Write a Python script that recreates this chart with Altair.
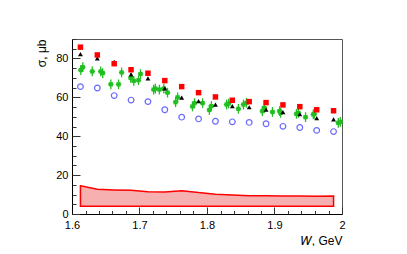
import altair as alt
import pandas as pd

# ---- data ----
W_bins = [1.6125, 1.6375, 1.6625, 1.6875, 1.7125, 1.7375, 1.7625, 1.7875,
          1.8125, 1.8375, 1.8625, 1.8875, 1.9125, 1.9375, 1.9625, 1.9875]
red_sq = [85.8, 81.8, 77.3, 74.2, 72.4, 68.6, 65.5, 62.4,
          60.2, 58.5, 57.8, 57.3, 56.1, 55.2, 53.6, 53.1]
black_tri = [82.2, 80.0, 78.3, 71.8, 69.8, 64.6, 59.8, 58.0,
             56.2, 55.5, 54.9, 53.7, 52.4, 51.3, 49.3, 48.7]
blue_circ = [65.5, 64.8, 60.9, 58.6, 57.8, 53.6, 49.8, 48.9,
             47.7, 47.4, 47.1, 46.4, 45.1, 44.5, 43.0, 42.4]
band_hi = [14.5, 12.7, 12.4, 12.2, 11.5, 11.3, 12.0, 11.0,
           10.2, 9.8, 9.4, 9.4, 9.3, 9.2, 9.1, 9.3]
band_lo = [4.0] * 16

green_W = [1.6130, 1.6160, 1.6300, 1.6425, 1.6455, 1.6575, 1.6690, 1.6735,
           1.6870, 1.6915, 1.6985, 1.7015, 1.7210, 1.7235, 1.7295, 1.7360,
           1.7415, 1.7535, 1.7565, 1.7785, 1.7815, 1.7935, 1.8035, 1.8065,
           1.8290, 1.8320, 1.8465, 1.8540, 1.8585, 1.8820, 1.8850, 1.8970,
           1.9075, 1.9090, 1.9325, 1.9355, 1.9460, 1.9575, 1.9590, 1.9945,
           1.9975]
green_val = [74.0, 75.5, 73.3, 73.3, 72.5, 66.7, 66.7, 72.8,
             70.0, 68.5, 68.8, 72.0, 64.0, 64.5, 64.0, 64.5,
             62.4, 57.5, 60.0, 55.3, 57.0, 57.0, 53.5, 55.5,
             56.3, 56.8, 54.1, 56.3, 57.2, 52.9, 54.6, 52.5,
             52.9, 52.0, 51.5, 52.0, 49.8, 51.2, 51.5, 46.9,
             47.4]
green_err = [2.5] * len(green_W)
green_werr = [0.004] * len(green_W)

x_label_values = [1.6, 1.7, 1.8, 1.9, 2.0]
x_tick_values = [1.60, 1.62, 1.64, 1.66, 1.68, 1.70, 1.72, 1.74, 1.76, 1.78,
                 1.80, 1.82, 1.84, 1.86, 1.88, 1.90, 1.92, 1.94, 1.96, 1.98, 2.00]
y_label_values = [0, 20, 40, 60, 80]
y_tick_values = [0, 5, 10, 15, 20, 25, 30, 35, 40, 45, 50, 55, 60, 65, 70,
                 75, 80, 85, 90]

PW, PH = 270, 175
FONT = "Liberation Sans"

main = pd.DataFrame({"W": W_bins, "red": red_sq, "tri": black_tri,
                     "blue": blue_circ, "hi": band_hi, "lo": band_lo})
green = pd.DataFrame({"W": green_W, "v": green_val,
                      "e": green_err, "we": green_werr})
green["vlo"] = green["v"] - green["e"]
green["vhi"] = green["v"] + green["e"]
green["wlo"] = green["W"] - green["we"]
green["whi"] = green["W"] + green["we"]

xs = alt.Scale(domain=[1.6, 2.0], nice=False, zero=False)
ys = alt.Scale(domain=[0, 90], nice=False, zero=False)

# label axes (outside, no ticks)
x_lab_axis = alt.Axis(values=x_label_values, format="~g", ticks=False,
                      labelPadding=5, labelFontSize=11, labelFont=FONT,
                      labelColor="black", domainColor="black", grid=False,
                      title="𝑊, GeV", titleFont=FONT, titleFontSize=12,
                      titleFontWeight="normal", titleX=PW, titleY=30,
                      titleAlign="right", titleBaseline="alphabetic",
                      labelFlush=False)
y_lab_axis = alt.Axis(values=y_label_values, ticks=False, labelPadding=4,
                      labelFontSize=11, labelFont=FONT, labelColor="black",
                      domainColor="black", grid=False,
                      title="σ, μb", titleFont=FONT, titleFontSize=12,
                      titleFontWeight="normal", titleAngle=270,
                      titleX=-27, titleY=0, titleAlign="right",
                      titleBaseline="alphabetic")

# tick axes placed on the opposite side, pulled onto the frame so ticks point inward
x_tick_axis = alt.Axis(orient="top", offset=-PH, values=x_tick_values,
                       labels=False, domain=False, grid=False, title=None,
                       tickColor="#333", tickWidth=1,
                       tickSize={"condition": {"test": "abs(datum.value*10 - round(datum.value*10)) < 0.001", "value": 7}, "value": 3.5})
y_tick_axis = alt.Axis(orient="right", offset=-PW, values=y_tick_values,
                       labels=False, domain=False, grid=False, title=None,
                       tickColor="#333", tickWidth=1,
                       tickSize={"condition": {"test": "datum.value % 20 === 0", "value": 8}, "value": 4})

band = alt.Chart(main).mark_area(fill="#f7b0b0", stroke="#ff0000",
                                 strokeWidth=1.5, interpolate="linear").encode(
    x=alt.X("W:Q", scale=xs, axis=x_lab_axis),
    y=alt.Y("hi:Q", scale=ys, axis=y_lab_axis),
    y2="lo:Q",
)

blue_l = alt.Chart(main).mark_point(shape="circle", filled=False,
                                    color="#2a2aff", size=32,
                                    strokeWidth=1.2).encode(
    x=alt.X("W:Q", scale=xs, axis=x_tick_axis),
    y=alt.Y("blue:Q", scale=ys, axis=y_tick_axis),
)

g_v = alt.Chart(green).mark_rule(color="#1fbf1f", strokeWidth=1.3).encode(
    x=alt.X("W:Q", scale=xs, axis=None),
    y=alt.Y("vlo:Q", scale=ys, axis=None),
    y2="vhi:Q",
)
g_h = alt.Chart(green).mark_rule(color="#1fbf1f", strokeWidth=1.3).encode(
    x=alt.X("wlo:Q", scale=xs, axis=None),
    x2="whi:Q",
    y=alt.Y("v:Q", scale=ys, axis=None),
)
g_p = alt.Chart(green).mark_point(shape="square", filled=True,
                                  color="#1fbf1f", size=18, opacity=1).encode(
    x=alt.X("W:Q", scale=xs, axis=None),
    y=alt.Y("v:Q", scale=ys, axis=None),
)

tri_l = alt.Chart(main).mark_point(shape="triangle-up", filled=True,
                                   color="black", size=24, opacity=1).encode(
    x=alt.X("W:Q", scale=xs, axis=None),
    y=alt.Y("tri:Q", scale=ys, axis=None),
)
red_l = alt.Chart(main).mark_point(shape="square", filled=True,
                                   color="#ff0000", size=30, opacity=1).encode(
    x=alt.X("W:Q", scale=xs, axis=None),
    y=alt.Y("red:Q", scale=ys, axis=None),
)

chart = alt.layer(band, blue_l, g_v, g_h, g_p, tri_l, red_l).resolve_axis(
    x="independent", y="independent"
).properties(
    width=PW, height=PH,
    autosize=alt.AutoSizeParams(type="none"),
    padding={"left": 64, "top": 31, "right": 57, "bottom": 32},
    background="white",
).configure_view(stroke="#555", strokeWidth=1)

chart.save("out.html", embed_options={"renderer": "svg", "actions": False})
